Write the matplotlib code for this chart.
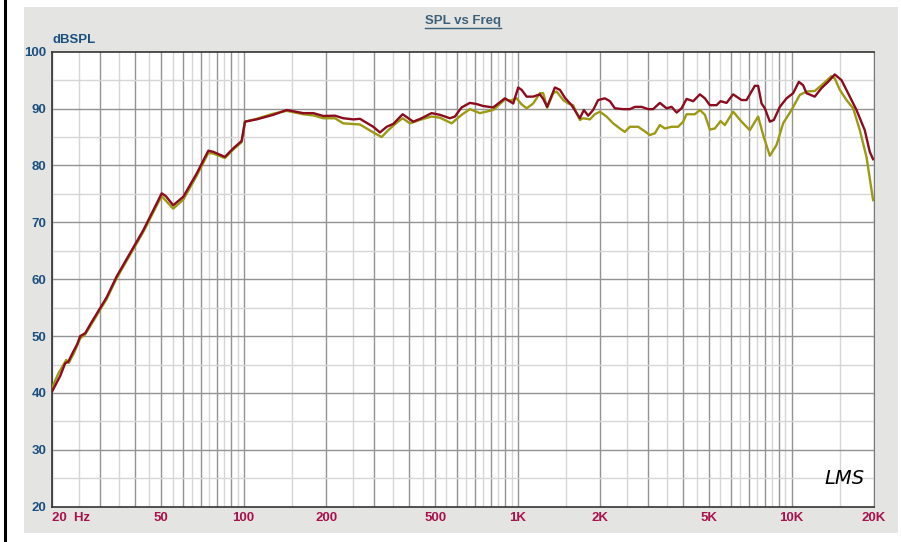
import numpy as np
import matplotlib; matplotlib.use('Agg')
import matplotlib.pyplot as plt
from matplotlib.patches import Rectangle
from matplotlib.lines import Line2D
from matplotlib.ticker import FixedLocator, NullFormatter

plt.rcParams['font.family'] = ['Liberation Sans Narrow', 'Liberation Sans', 'DejaVu Sans']

# red trace (Hz, dBSPL)
red_f = [20.0, 21.4, 22.3, 22.9, 23.9, 24.7, 25.3, 26.4, 27.5, 29.9, 31.6, 34.4, 38.4, 43.0,
         48.8, 50.2, 52.0, 55.3, 60.2, 67.4, 74.3, 77.4, 85.4, 91.6, 98.3, 101.1, 111.5,
         128.2, 143.5, 165.0, 179.5, 195.2, 215.4, 230.9, 251.2, 265.8, 297.2, 314.4, 332.6,
         351.6, 380.4, 415.9, 446.2, 485.3, 520.4, 566.1, 590.4, 624.6, 669.5, 708.4, 748.7,
         814.4, 898.8, 963.8, 1005, 1034, 1079, 1140, 1206, 1240, 1282, 1368, 1427, 1488,
         1574, 1642, 1688, 1745, 1810, 1887, 1968, 2082, 2172, 2265, 2428, 2570, 2680, 2836,
         2996, 3124, 3305, 3498, 3649, 3806, 3968, 4138, 4375, 4628, 4827, 5033, 5325, 5507,
         5792, 6122, 6569, 6851, 7345, 7552, 7770, 7990, 8332, 8617, 9063, 9588, 10135,
         10632, 11023, 11342, 12158, 12864, 13597, 14384, 15219, 16087, 17262, 18507,
         19301, 19848]
red_db = [40.3, 43.0, 45.2, 45.5, 47.3, 48.6, 50.0, 50.5, 52.0, 54.9, 56.8, 60.5, 64.5, 68.6,
          73.9, 75.1, 74.6, 73.0, 74.5, 78.6, 82.6, 82.4, 81.5, 83.0, 84.3, 87.7, 88.1,
          88.9, 89.75, 89.2, 89.2, 88.7, 88.75, 88.3, 88.1, 88.2, 86.8, 85.8, 86.8,
          87.3, 89.0, 87.7, 88.3, 89.2, 88.9, 88.3, 88.6, 90.2, 91.0, 90.8, 90.45,
          90.2, 91.8, 90.9, 93.7, 93.3, 92.1, 92.1, 92.5, 91.7, 90.3, 93.7, 93.3, 91.9,
          90.6, 89.2, 88.3, 89.75, 88.75, 89.75, 91.5, 91.8, 91.3, 90.05, 89.9, 89.9, 90.3, 90.3,
          89.9, 89.9, 91.0, 90.05, 90.3, 89.3, 90.05, 91.7, 91.3, 92.5, 91.8, 90.6, 90.6, 91.3,
          91.0, 92.5, 91.5, 91.5, 94.0, 94.0, 90.9, 90.05, 87.7, 88.0, 90.3, 91.8, 92.7,
          94.7, 94.1, 92.7, 92.1, 93.6, 94.7, 96.0, 95.0, 92.7, 89.75, 86.2,
          82.4, 81.1]

# olive trace (Hz, dBSPL)
olive_f = [20.0, 21.1, 22.5, 23.0, 24.0, 25.3, 26.4, 27.5, 29.9, 31.6, 34.4, 38.4, 43.0,
           48.8, 50.2, 55.3, 60.2, 67.4, 74.3, 77.4, 85.4, 91.6, 98.3, 101.1, 111.5,
           128.2, 143.5, 165.0, 179.5, 195.2, 215.4, 230.9, 265.8, 297.2, 318.9, 337.1,
           361.6, 380.4, 404.5, 446.2, 485.3, 520.4, 574.2, 624.6, 669.5, 728.2, 814.4,
           898.8, 940.3, 991.5, 1034, 1079, 1140, 1206, 1240, 1282, 1349, 1388, 1467, 1530,
           1595, 1642, 1688, 1735, 1836, 1914, 1997, 2111, 2233, 2362, 2463, 2570, 2755,
           2873, 3039, 3170, 3305, 3448, 3649, 3855, 4022, 4138, 4437, 4628, 4827, 5033,
           5249, 5507, 5708, 6122, 6569, 7043, 7552, 7877, 8332, 8815, 9318, 9996, 10717,
           11342, 12158, 12864, 13992, 14384, 15003, 15870, 16785, 17750, 18777, 19848]
olive_db = [41.0, 43.5, 45.8, 45.3, 47.0, 49.6, 50.3, 51.7, 54.6, 56.5, 60.2, 64.2, 68.3,
            73.5, 74.6, 72.4, 74.0, 78.2, 82.2, 82.1, 81.3, 82.8, 84.1, 87.7, 88.2,
            89.1, 89.6, 89.0, 88.8, 88.3, 88.3, 87.4, 87.2, 85.8, 85.0, 86.2,
            87.5, 88.3, 87.4, 88.1, 88.6, 88.4, 87.4, 88.9, 89.9, 89.2, 89.75,
            91.6, 91.4, 91.8, 90.75, 90.05, 90.9, 92.7, 92.7, 90.15, 92.7, 93.0, 91.5, 90.9,
            90.6, 89.2, 88.0, 88.3, 88.1, 89.0, 89.45, 88.6, 87.4, 86.5, 85.9, 86.8, 86.8,
            86.2, 85.35, 85.65, 87.1, 86.5, 86.8, 86.8, 87.7, 89.0, 89.0, 89.75, 88.9, 86.3,
            86.5, 87.8, 87.1, 89.45, 87.7, 86.2, 88.6, 85.35, 81.7, 83.6, 87.4, 89.75, 92.4,
            93.0, 93.1, 94.1, 95.7, 95.3, 93.3, 91.5, 90.05, 86.2, 81.5, 73.9]

x_ticks = [20, 50, 100, 200, 500, 1000, 2000, 5000, 10000, 20000]
x_labels = ['20  Hz', '50', '100', '200', '500', '1K', '2K', '5K', '10K', '20K']
y_ticks = [20, 30, 40, 50, 60, 70, 80, 90, 100]

W, H = 901, 542
fig = plt.figure(figsize=(W / 100, H / 100), dpi=100)
fig.patch.set_facecolor('white')
fig.patches.append(Rectangle((24 / W, 9 / H), 874 / W, 526 / H, transform=fig.transFigure,
                             facecolor='#e4e5e3', edgecolor='none', zorder=-5))
fig.lines.append(Line2D([5 / W, 5 / W], [0, 1], transform=fig.transFigure, color='black',
                        lw=2.2, zorder=-4))

ax = fig.add_axes([52.2 / W, 35.3 / H, 821.8 / W, 455 / H])
ax.set_zorder(2)
ax.set_facecolor('white')
ax.set_xscale('log')
ax.set_xlim(20, 20000)
ax.set_ylim(20, 100)

# LMS-style grid: dark lines at 1..9 x decade, light lines at the half steps
maj_x = [m * 10 ** d for d in range(1, 5) for m in range(1, 10) if 20 <= m * 10 ** d <= 20000]
min_x = [(m + 0.5) * 10 ** d for d in range(1, 5) for m in range(1, 10) if 20 < (m + 0.5) * 10 ** d < 20000]
for v in min_x:
    ax.axvline(v, color='#d6d6d6', lw=1.0, zorder=1)
for v in maj_x:
    ax.axvline(v, color='#939393', lw=1.0, zorder=1)
for v in range(25, 100, 10):
    ax.axhline(v, color='#d6d6d6', lw=1.0, zorder=1)
for v in range(30, 100, 10):
    ax.axhline(v, color='#939393', lw=1.0, zorder=1)

ax.plot(olive_f, olive_db, color='#9c9a14', lw=1.7, zorder=3)
ax.plot(red_f, red_db, color='#8a0c1e', lw=1.7, zorder=4)

ax.xaxis.set_major_locator(FixedLocator(x_ticks))
ax.xaxis.set_minor_locator(FixedLocator([]))
ax.xaxis.set_minor_formatter(NullFormatter())
ax.set_xticklabels(x_labels)
ax.set_yticks(y_ticks)
ax.tick_params(length=0, pad=4)
for lab in ax.get_xticklabels():
    lab.set_color('#a8124c'); lab.set_fontweight('bold'); lab.set_fontsize(9.5)
for lab in ax.get_yticklabels():
    lab.set_color('#1b4f7e'); lab.set_fontweight('bold'); lab.set_fontsize(9.5)
ax.get_xticklabels()[0].set_horizontalalignment('left')
ax.get_xticklabels()[0].set_x(19.0)

for s in ['left', 'bottom', 'top']:
    ax.spines[s].set_color('#333333'); ax.spines[s].set_linewidth(1.2)
ax.spines['right'].set_color('#777777')

ax.text(0.0, 1.012, 'dBSPL', transform=ax.transAxes, color='#1b4f7e', fontweight='bold',
        fontsize=9.5, ha='left', va='bottom')
ax.text(0.94, 0.04, 'LMS', transform=ax.transAxes, color='black', fontsize=14,
        style='italic', family='DejaVu Sans', ha='left', va='bottom')

t = fig.text(463 / W, 1 - 21 / H, 'SPL vs Freq', color='#3e6079', fontweight='bold',
             fontsize=9.5, ha='center', va='center')
fig.canvas.draw()
bb = t.get_window_extent()
fig.lines.append(Line2D([bb.x0 / W, bb.x1 / W], [(bb.y0 - 0.5) / H] * 2,
                        transform=fig.transFigure, color='#3e6079', lw=1.0))

fig.savefig('out.png', dpi=100, facecolor=fig.get_facecolor())
